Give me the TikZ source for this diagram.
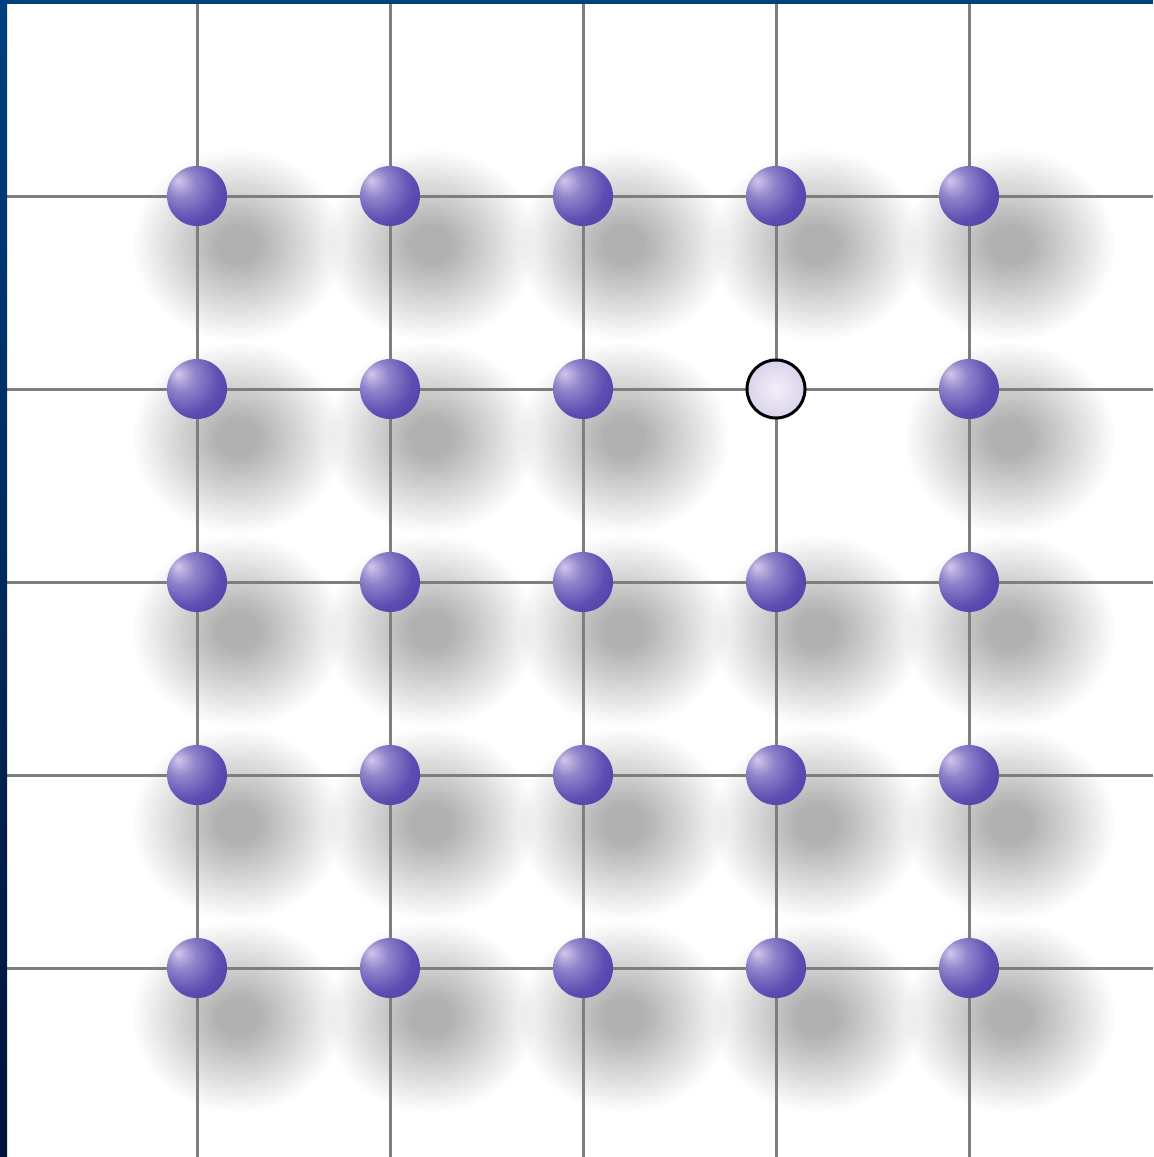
\documentclass[tikz,border=0pt]{standalone}

\definecolor{gridgray}{HTML}{7E7E7E}
\definecolor{atomlight}{HTML}{D0C7EA}
\definecolor{atommid}{HTML}{5E4EB2}
\definecolor{atomdark}{HTML}{3E2B9B}
\definecolor{vaclight}{HTML}{F2EFF8}
\definecolor{vacdark}{HTML}{DAD3EC}
\definecolor{frametop}{HTML}{00407F}
\definecolor{framebot}{HTML}{001338}

% shading of one atom, light from the upper left
\pgfdeclareradialshading{atomball}{\pgfpoint{-16bp}{13bp}}{%
  color(0bp)=(atomlight); color(12bp)=(atommid!55!atomlight);
  color(28bp)=(atommid); color(54bp)=(atomdark); color(75bp)=(atomdark)}

\tikzset{
  atom/.style={circle, minimum size=0.6cm, inner sep=0pt, shade, shading=atomball},
  vacancy/.style={circle, minimum size=0.58cm, inner sep=0pt, draw=black,
    line width=0.03cm, inner color=vaclight, outer color=vacdark},
  latline/.style={gridgray, line width=0.03cm},
  shadowlayer/.style={fill=black, fill opacity=0.0125}
}

\begin{document}
\begin{tikzpicture}[x=0.01cm, y=-0.01cm]
\useasboundingbox (0,0) rectangle (1153,1157);
\fill[white] (0,0) rectangle (1153,1157);

% Shadows (stacked soft layers)
\foreach \i in {0,...,4}
  \foreach \j in {0,...,4}{
    \pgfmathtruncatemacro\isvac{(\i==3)&&(\j==1)}
    \ifnum\isvac=0
      \coordinate (s\i\j) at ({238+193*\i},{245+193*\j});
      \foreach \r in {20,23,...,95}
        \fill[shadowlayer] (s\i\j) ellipse [x radius={1.1*\r}, y radius=\r];
    \fi
  }

% Lattice lines
\foreach \k in {0,...,4}{
  \draw[latline] ({197+193*\k},4) -- ({197+193*\k},1157);
  \draw[latline] (7,{196+193*\k}) -- (1153,{196+193*\k});
}

% Atoms
\foreach \i in {0,...,4}
  \foreach \j in {0,...,4}{
    \pgfmathtruncatemacro\isvac{(\i==3)&&(\j==1)}
    \ifnum\isvac=0
      \node[atom] (a\i\j) at ({197+193*\i},{196+193*\j}) {};
    \fi
  }

% Vacancy
\node[vacancy] (vac) at (776,389) {};

% Frame
\shade[top color=frametop, bottom color=framebot] (0,0) rectangle (7,1157);
\fill[frametop] (0,0) rectangle (1153,4);

\end{tikzpicture}
\end{document}
